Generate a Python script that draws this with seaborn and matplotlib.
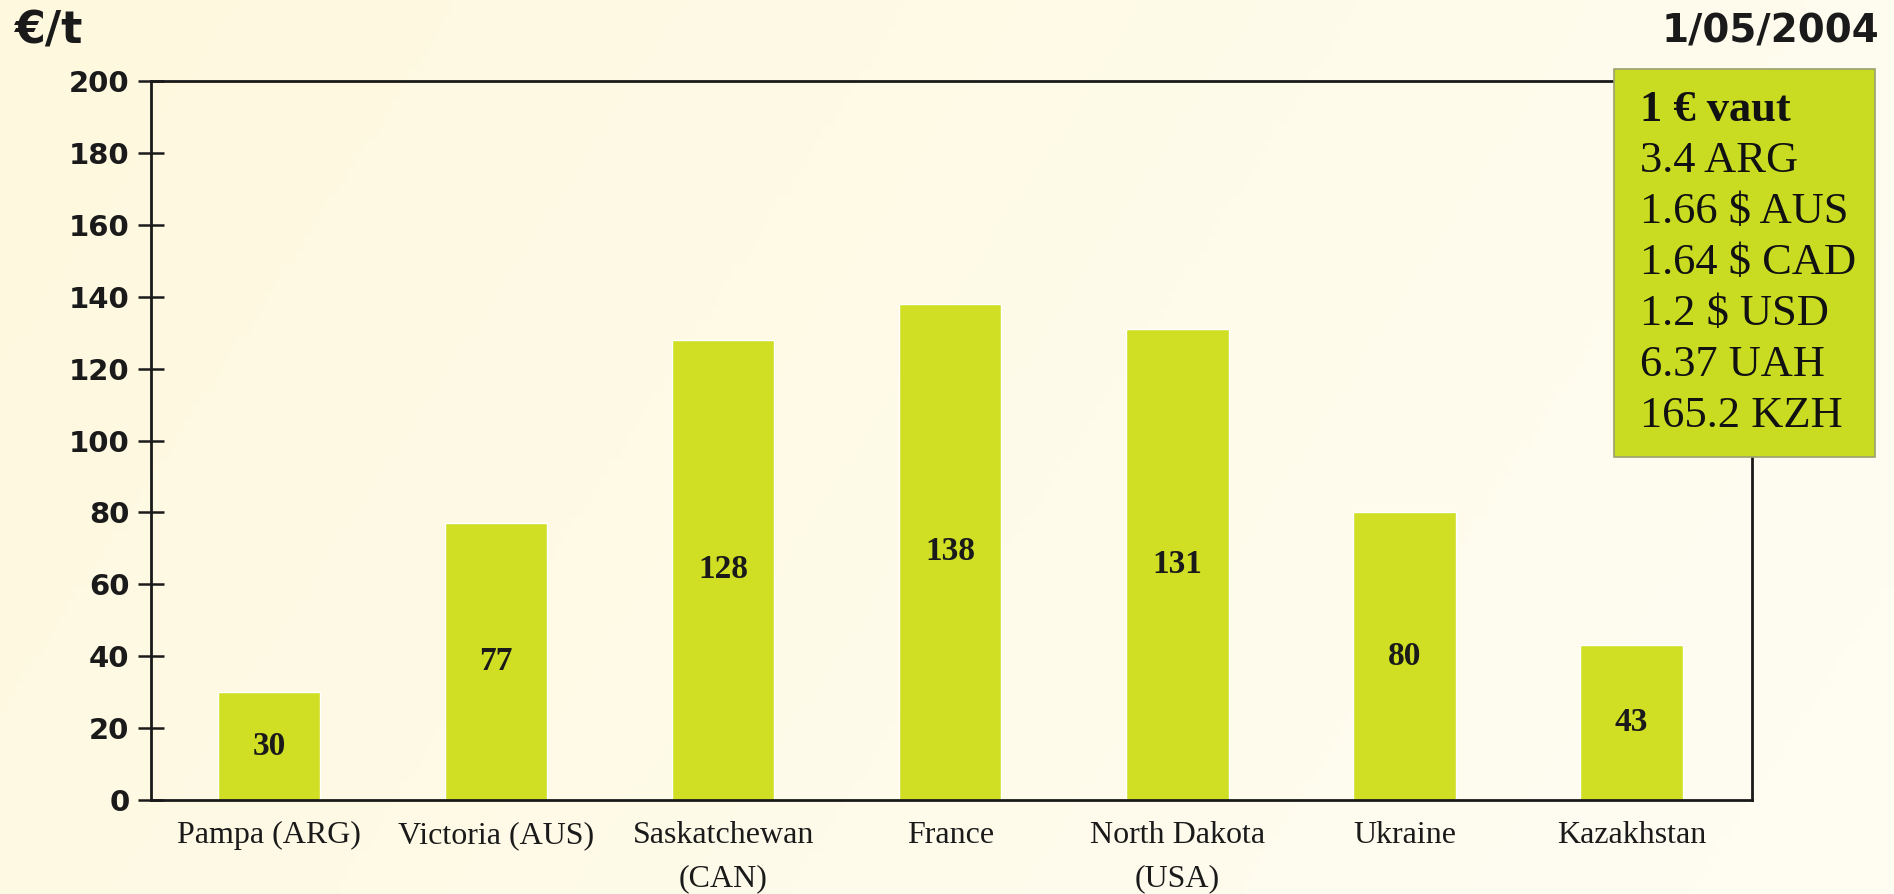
import numpy as np
import pandas as pd
import seaborn as sns
import matplotlib.pyplot as plt
from matplotlib.patches import Rectangle

# Chart data
regions = ['Pampa (ARG)', 'Victoria (AUS)', 'Saskatchewan\n(CAN)', 'France',
           'North Dakota\n(USA)', 'Ukraine', 'Kazakhstan']
prices = [30, 77, 128, 138, 131, 80, 43]
y_ticks = [0, 20, 40, 60, 80, 100, 120, 140, 160, 180, 200]
rate_values = ['3.4', '1.66 $', '1.64 $', '1.2 $', '6.37', '165.2']
rate_units = ['ARG', 'AUS', 'CAD', 'USD', 'UAH', 'KZH']

data = pd.DataFrame({'region': regions, 'price': prices})

sns.set_style('white')
bar_color = '#D0DF24'
serif = 'Liberation Serif'

fig = plt.figure(figsize=(18.94, 8.94), dpi=100)

# cream gradient background
bg = fig.add_axes([0, 0, 1, 1], zorder=-10)
grad = np.linspace(0, 1, 256).reshape(1, -1)
grad = grad + np.linspace(0, 0.3, 64).reshape(-1, 1)
bg.imshow(grad, aspect='auto', cmap=sns.blend_palette(['#FEF8DE', '#FFFDF2'], as_cmap=True),
          extent=[0, 1, 0, 1], vmin=0, vmax=1.2)
bg.axis('off')

ax = fig.add_axes([0.0797, 0.1051, 0.8453, 0.8043])
ax.set_facecolor('none')
sns.barplot(data=data, x='region', y='price', color=bar_color, saturation=1,
            width=0.45, ax=ax, zorder=2)

for c in ax.containers:
    ax.bar_label(c, labels=[str(v) for v in prices], label_type='center',
                 fontsize=24, fontweight='bold', family=serif, color='#1a1a1a')

ax.set_ylim(0, 200)
ax.set_xlim(-0.52, 6.53)
ax.set_yticks(y_ticks)
ax.set_yticklabels([str(t) for t in y_ticks], fontsize=21, fontweight='bold',
                   family='DejaVu Sans', color='#1a1a1a')
ax.tick_params(axis='y', left=True, direction='inout', length=19, width=1.8,
               color='#1a1a1a', pad=6)
ax.tick_params(axis='x', length=0, pad=15)
for lbl in ax.get_xticklabels():
    lbl.set_fontsize(23)
    lbl.set_family(serif)
    lbl.set_color('#1a1a1a')
    lbl.set_linespacing(1.65)
ax.set_xlabel('')
ax.set_ylabel('')
for s in ax.spines.values():
    s.set_visible(True)
    s.set_color('#1a1a1a')
    s.set_linewidth(2)

# unit and date
fig.text(0.008, 0.965, '€/t', fontsize=32, fontweight='bold', family='DejaVu Sans',
         color='#1a1a1a', va='center', ha='left')
fig.text(0.992, 0.965, '1/05/2004', fontsize=28, fontweight='bold', family='DejaVu Sans',
         color='#1a1a1a', va='center', ha='right')

# exchange rate box
fig.patches.append(Rectangle((0.852, 0.489), 0.138, 0.434, transform=fig.transFigure,
                             facecolor='#C9DC22', edgecolor='#9aa070', linewidth=1.2, zorder=5))
fig.text(0.866, 0.877, '1 € vaut', fontsize=32, fontweight='bold', family=serif,
         color='#111111', va='center', ha='left', zorder=6)
for i, (v, u) in enumerate(zip(rate_values, rate_units)):
    fig.text(0.866, 0.877 - (i + 1) * 0.057, f'{v} {u}', fontsize=32, family=serif,
             color='#111111', va='center', ha='left', zorder=6)

plt.savefig('out.png', dpi=100)
